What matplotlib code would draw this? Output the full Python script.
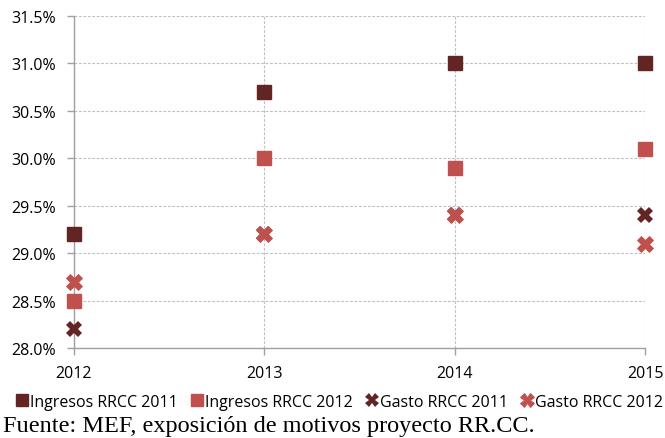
import matplotlib
matplotlib.use("Agg")
import matplotlib.pyplot as plt
from matplotlib.ticker import FuncFormatter

years = [2012, 2013, 2014, 2015]
ingresos_2011 = [29.2, 30.7, 31.0, 31.0]
ingresos_2012 = [28.5, 30.0, 29.9, 30.1]
gasto_2011 = [28.2, 29.2, 29.4, 29.4]
gasto_2012 = [28.7, 29.2, 29.4, 29.1]
y_ticks = [28.0, 28.5, 29.0, 29.5, 30.0, 30.5, 31.0, 31.5]

dark = "#632523"
light = "#C0504D"

plt.rcParams['font.family'] = ['Open Sans', 'DejaVu Sans']

fig = plt.figure(figsize=(6.65, 4.39), dpi=100)
ax = fig.add_axes([74 / 665, 1 - 349 / 439, (645 - 74) / 665, (349 - 17) / 439])

ax.plot(years, ingresos_2011, linestyle='none', marker='s', markersize=10,
        color=dark, label='Ingresos RRCC 2011', clip_on=False, zorder=3)
ax.plot(years, ingresos_2012, linestyle='none', marker='s', markersize=10,
        color=light, label='Ingresos RRCC 2012', clip_on=False, zorder=3)
ax.plot(years, gasto_2011, linestyle='none', marker='X', markersize=11.5,
        markeredgewidth=0, color=dark, label='Gasto RRCC 2011', clip_on=False, zorder=3)
ax.plot(years, gasto_2012, linestyle='none', marker='X', markersize=11.5,
        markeredgewidth=0.6, markeredgecolor=light, color=light,
        label='Gasto RRCC 2012', clip_on=False, zorder=4)

ax.set_xlim(2012, 2015)
ax.set_ylim(28.0, 31.5)
ax.set_xticks(years)
ax.set_yticks(y_ticks)
ax.yaxis.set_major_formatter(FuncFormatter(lambda v, p: f"{v:.1f}%"))

ax.grid(True, color='#c0c0c0', linestyle=(0, (2.5, 1.5)), linewidth=0.8)
ax.set_axisbelow(True)
for side in ['top', 'right']:
    ax.spines[side].set_visible(False)
for side in ['left', 'bottom']:
    ax.spines[side].set_color('#a0a0a0')
    ax.spines[side].set_linewidth(1.0)
ax.tick_params(axis='both', colors='#a0a0a0', labelcolor='#000000',
               labelsize=11.5, length=5, width=1)
ax.tick_params(axis='x', pad=7)
ax.tick_params(axis='y', pad=8)

leg = ax.legend(loc='center', bbox_to_anchor=(339 / 665, 1 - 403 / 439),
                bbox_transform=fig.transFigure, ncol=4, frameon=False,
                fontsize=11.5, handletextpad=0.05, columnspacing=0.75,
                handlelength=0.9, borderaxespad=0, markerscale=0.85)

fig.text(3 / 665, 1 - 427 / 439, "Fuente: MEF, exposición de motivos proyecto RR.CC.",
         family=['Liberation Serif'], fontsize=17.5, va='center', ha='left')

fig.savefig("out.png", dpi=100)
